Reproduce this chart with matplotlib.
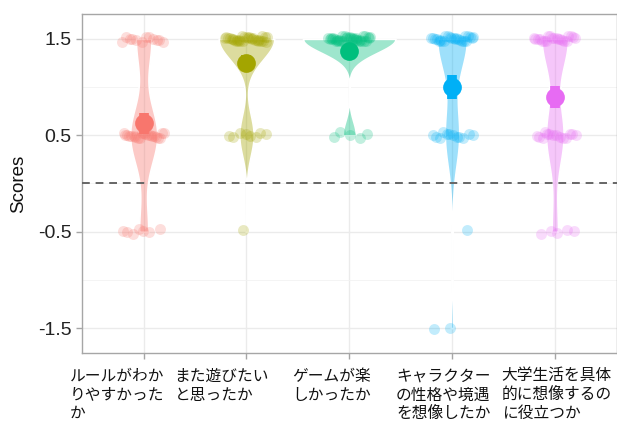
import numpy as np
import matplotlib
matplotlib.use("Agg")
import matplotlib.pyplot as plt
import matplotlib.transforms as mtransforms

plt.rcParams['font.family'] = ['Liberation Sans', 'Noto Sans CJK JP']

# Survey items and answer counts per score level
labels = ['ルールがわか\nりやすかった\nか',
          'また遊びたい\nと思ったか',
          'ゲームが楽\nしかったか',
          'キャラクター\nの性格や境遇\nを想像したか',
          '大学生活を具体\n的に想像するの\nに役立つか']
levels = [1.5, 0.5, -0.5, -1.5]
counts = [
    [12, 21, 7, 0],
    [31, 8, 1, 0],
    [35, 5, 0, 0],
    [25, 12, 1, 2],
    [21, 14, 5, 0],
]
colors = ['#F8766D', '#A3A500', '#00BF7D', '#00B0F6', '#E76BF3']

# horizontal shift of each x label block (pixels)
label_shift = [-74, -72, -57, -56, -53]


def bw_nrd0(x):
    hi = np.std(x, ddof=1)
    q75, q25 = np.percentile(x, [75, 25])
    lo = min(hi, (q75 - q25) / 1.34)
    if not lo:
        lo = hi or abs(x[0]) or 1.0
    return 0.9 * lo * len(x) ** -0.2


def kde(x, grid):
    bw = bw_nrd0(x)
    z = (grid[:, None] - x[None, :]) / bw
    return np.exp(-0.5 * z ** 2).sum(axis=1) / (len(x) * bw * np.sqrt(2 * np.pi))


samples = [np.repeat(levels, c) for c in counts]
grids = [np.linspace(s.min(), s.max(), 512) for s in samples]
dens = [kde(s, g) for s, g in zip(samples, grids)]
dmax = max(d.max() for d in dens)

fig = plt.figure(figsize=(6.17, 4.23), dpi=100)
ax = fig.add_axes([82 / 617, 70 / 423, 534.5 / 617, 339 / 423])

for i, (s, g, d, col) in enumerate(zip(samples, grids, dens, colors)):
    pos = i + 1
    half = 0.45 * d / dmax
    fc = matplotlib.colors.to_rgba(col, 0.38)
    ax.fill_betweenx(g, pos - half, pos + half, facecolor=fc,
                     edgecolor='white', linewidth=1.2, zorder=2)

ax.axhline(0, color='#666666', lw=1.4, ls=(0, (4, 3)), zorder=3)

# jittered raw answers
for i, (cnt, col) in enumerate(zip(counts, colors)):
    pos = i + 1
    k = 0
    for lev, n in zip(levels, cnt):
        if n == 0:
            continue
        idx = np.arange(n) + k + 7 * i
        dx = ((idx * 0.6180339887) % 1.0 - 0.5) * 0.42
        dy = ((idx * 0.7548776662) % 1.0 - 0.5) * 0.06
        ax.scatter(pos + dx, lev + dy, s=62, color=col, alpha=0.24,
                   linewidths=0, zorder=4)
        k += n

# mean +/- standard error
for i, (s, col) in enumerate(zip(samples, colors)):
    pos = i + 1
    m = s.mean()
    se = s.std(ddof=1) / np.sqrt(len(s))
    ax.plot([pos, pos], [m - se, m + se], color=col, lw=7,
            solid_capstyle='butt', zorder=5)
    ax.plot(pos, m, 'o', color=col, ms=13.5, mew=0, zorder=6)

ax.set_xlim(0.4, 5.6)
ax.set_ylim(-1.758, 1.758)
ax.set_xticks(range(1, 6))
ax.set_xticklabels([])
ax.set_yticks([-1.5, -0.5, 0.5, 1.5])
ax.set_yticklabels(['-1.5', '-0.5', '0.5', '1.5'])
ax.set_yticks([-1.0, 0.0, 1.0], minor=True)

ax.grid(True, which='major', color='#EBEBEB', lw=1.0, zorder=0)
ax.grid(True, which='minor', axis='y', color='#F2F2F2', lw=0.6, zorder=0)
ax.set_axisbelow(True)
ax.tick_params(axis='both', which='major', colors='#A6A6A6', length=4,
               width=1, labelcolor='#222222', labelsize=14)
ax.tick_params(axis='both', which='minor', length=0)
for sp in ax.spines.values():
    sp.set_color('#A6A6A6')
    sp.set_linewidth(1.0)

ax.set_ylabel('Scores', fontsize=13.5, color='#111111', labelpad=8)

for i, (lab, sh) in enumerate(zip(labels, label_shift)):
    off = mtransforms.ScaledTranslation(sh / 100, -15 / 100, fig.dpi_scale_trans)
    ax.text(i + 1, 0, lab, transform=ax.get_xaxis_transform() + off,
            ha='left', va='top', fontsize=11.3, linespacing=1.12,
            family=['Noto Sans CJK JP', 'DejaVu Sans'], color='#111111')

fig.savefig('out.png', dpi=100)
